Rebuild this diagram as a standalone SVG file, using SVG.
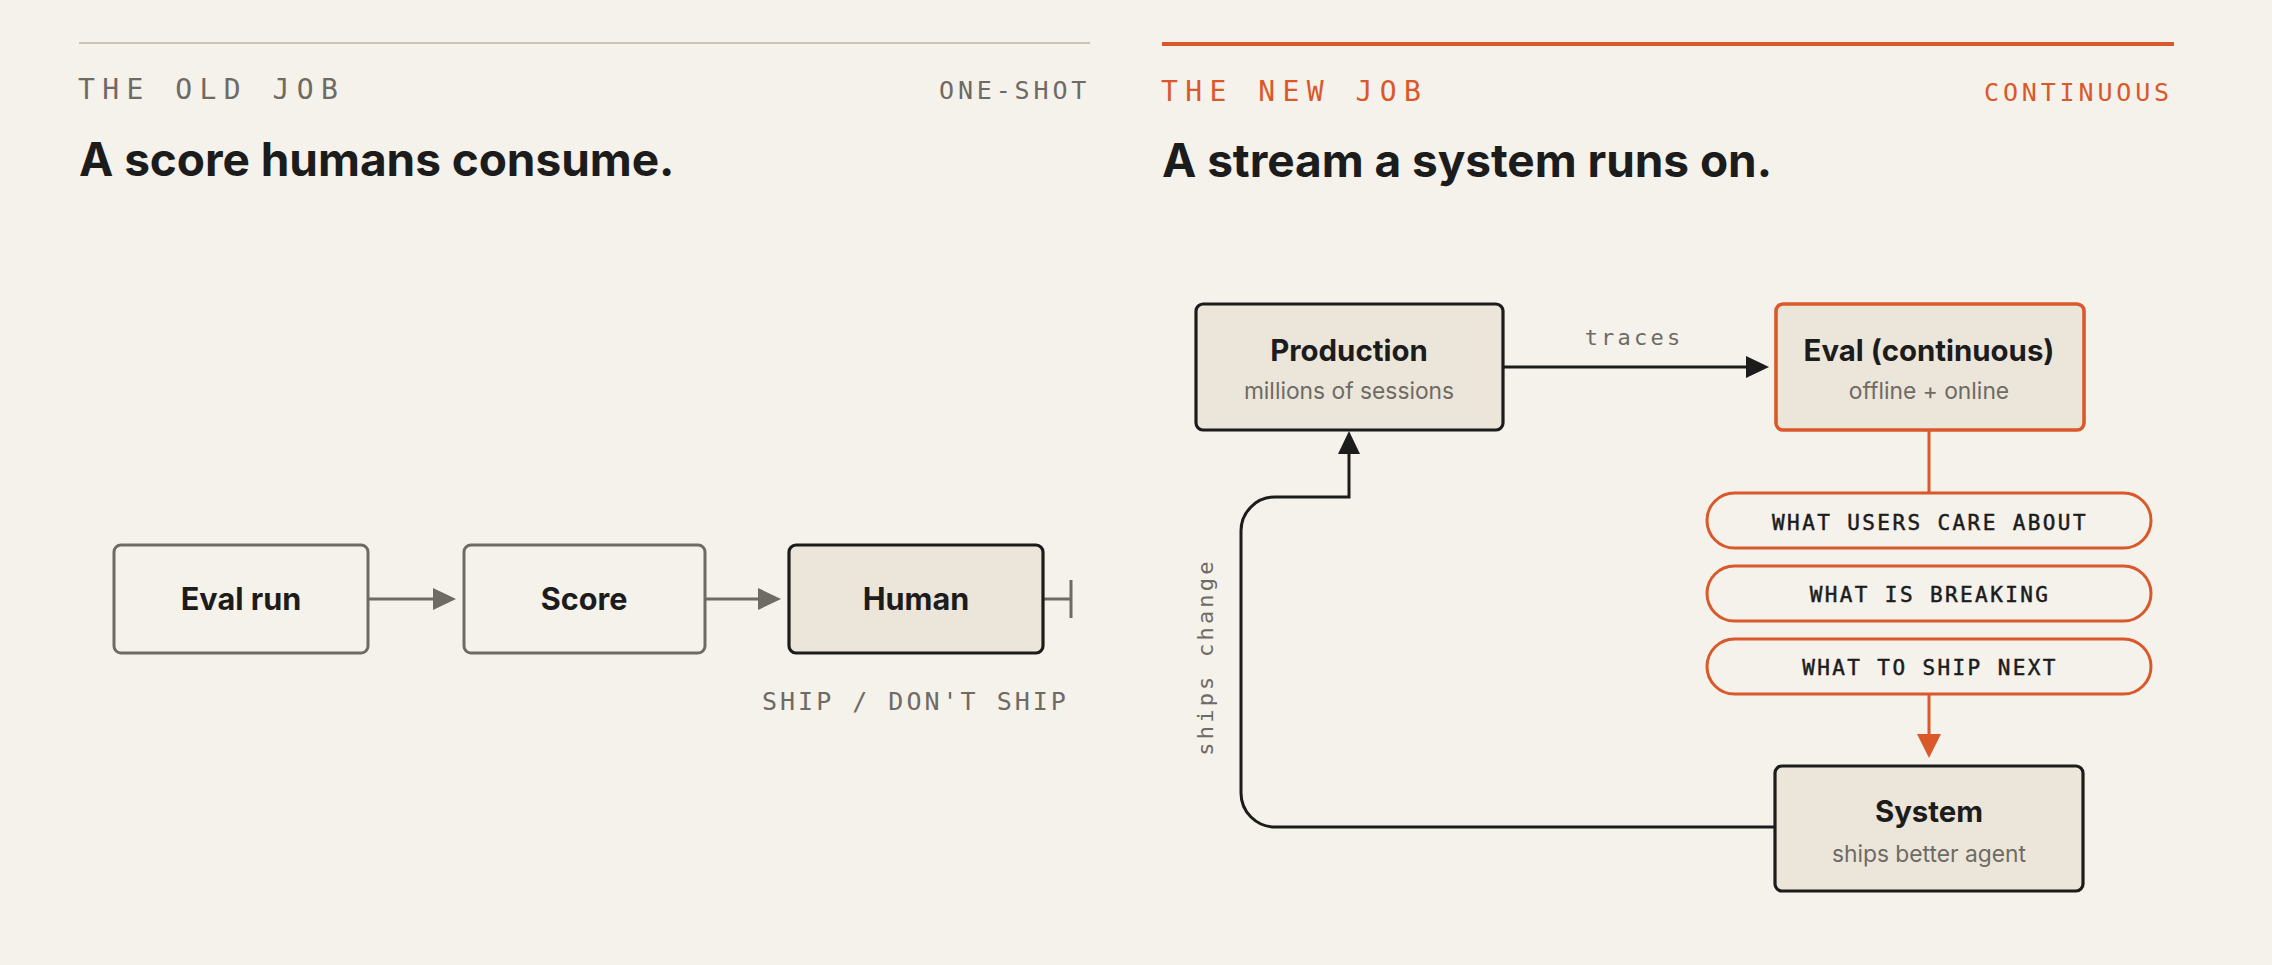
<svg xmlns="http://www.w3.org/2000/svg" width="2272" height="965" viewBox="0 0 2272 965">
<defs>
<style>
.bg{fill:#f5f1eb}
.kicker{font-family:"DejaVu Sans Mono",monospace;font-size:28px;letter-spacing:7.45px}
.tag{font-family:"DejaVu Sans Mono",monospace;font-size:25px;letter-spacing:3.85px}
.title{font-family:Inter,"Liberation Sans",sans-serif;font-weight:700;font-size:46px;fill:#1c1c1c;letter-spacing:-0.05px}
.gray{fill:#6e6a64}
.orange{fill:#d9592a}
.nodeOld{fill:#f5f1eb;stroke:#6e6a64;stroke-width:3}
.nodeDark{fill:#ebe5da;stroke:#1c1c1c;stroke-width:3.2}
.nodeOrange{fill:#ebe5da;stroke:#d9592a;stroke-width:3.6}
.pill{fill:#f5f1eb;stroke:#d9592a;stroke-width:3}
.nt{font-family:Inter,"Liberation Sans",sans-serif;font-weight:700;fill:#1c1c1c;text-anchor:middle}
.ns{font-family:Inter,"Liberation Sans",sans-serif;font-size:22.8px;fill:#6e6a64;text-anchor:middle}
.pt{font-family:"DejaVu Sans Mono",monospace;font-size:21px;letter-spacing:2.4px;fill:#1c1c1c;stroke:#1c1c1c;stroke-width:0.5px;text-anchor:middle}
.el{font-family:"DejaVu Sans Mono",monospace;font-size:22px;letter-spacing:3.2px;fill:#6e6a64}
.cg{fill:none;stroke:#6e6a64;stroke-width:3}
.cd{fill:none;stroke:#1c1c1c;stroke-width:3}
.co{fill:none;stroke:#d9592a;stroke-width:3}
</style>
<marker id="ahGray" viewBox="0 0 23 22" refX="0" refY="11" markerWidth="23" markerHeight="22" markerUnits="userSpaceOnUse" orient="auto"><path d="M0,0 L23,11 L0,22 Z" fill="#6e6a64"/></marker>
<marker id="ahDark" viewBox="0 0 23 22" refX="0" refY="11" markerWidth="23" markerHeight="22" markerUnits="userSpaceOnUse" orient="auto"><path d="M0,0 L23,11 L0,22 Z" fill="#1c1c1c"/></marker>
<marker id="ahOrange" viewBox="0 0 24 24" refX="0" refY="12" markerWidth="24" markerHeight="24" markerUnits="userSpaceOnUse" orient="auto"><path d="M0,0 L24,12 L0,24 Z" fill="#d9592a"/></marker>
</defs>
<rect class="bg" x="0" y="0" width="2272" height="965"/>

<g id="header-old">
<line x1="79" y1="43" x2="1090" y2="43" stroke="#c9c3b8" stroke-width="2"/>
<text class="kicker gray" x="78" y="99">THE OLD JOB</text>
<text class="tag gray" x="939" y="99">ONE-SHOT</text>
<text class="title" x="79" y="176">A score humans consume.</text>
</g>

<g id="header-new">
<line x1="1162" y1="44" x2="2174" y2="44" stroke="#d9592a" stroke-width="4"/>
<text class="kicker orange" x="1161" y="101">THE NEW JOB</text>
<text class="tag orange" x="1984" y="101">CONTINUOUS</text>
<text class="title" x="1162" y="177">A stream a system runs on.</text>
</g>

<g id="connectors">
<line class="cg" x1="368" y1="599" x2="433" y2="599" marker-end="url(#ahGray)"/>
<line class="cg" x1="705" y1="599" x2="758" y2="599" marker-end="url(#ahGray)"/>
<line class="cg" x1="1043" y1="599" x2="1071" y2="599"/>
<line class="cg" x1="1071" y1="580" x2="1071" y2="618"/>
<line class="cd" x1="1503" y1="367" x2="1746" y2="367" marker-end="url(#ahDark)"/>
<text class="el" x="1634" y="345" text-anchor="middle">traces</text>
<line class="co" x1="1929" y1="430" x2="1929" y2="493"/>
<line class="co" x1="1929" y1="693" x2="1929" y2="734" marker-end="url(#ahOrange)"/>
<path class="cd" d="M1775,827 H1275 A34,34 0 0 1 1241,793 V531 A34,34 0 0 1 1275,497 H1349 V454" marker-end="url(#ahDark)"/>
<text class="el" transform="translate(1213,657) rotate(-90)" text-anchor="middle">ships change</text>
<text class="tag gray" x="762" y="710" style="letter-spacing:3px">SHIP / DON'T SHIP</text>
</g>

<g id="node-eval-run">
<rect class="nodeOld" x="114" y="545" width="254" height="108" rx="7"/>
<text class="nt" x="241" y="610" font-size="30.6">Eval run</text>
</g>
<g id="node-score">
<rect class="nodeOld" x="464" y="545" width="241" height="108" rx="7"/>
<text class="nt" x="584" y="610" font-size="30.6">Score</text>
</g>
<g id="node-human">
<rect class="nodeDark" x="789" y="545" width="254" height="108" rx="7"/>
<text class="nt" x="916" y="610" font-size="30.6">Human</text>
</g>

<g id="node-production">
<rect class="nodeDark" x="1196" y="304" width="307" height="126" rx="7"/>
<text class="nt" x="1349" y="361" font-size="29.4">Production</text>
<text class="ns" x="1349" y="399">millions of sessions</text>
</g>
<g id="node-eval-continuous">
<rect class="nodeOrange" x="1776" y="304" width="308" height="126" rx="7"/>
<text class="nt" x="1929" y="361" font-size="29.4">Eval (continuous)</text>
<text class="ns" x="1929" y="399">offline + online</text>
</g>
<g id="node-users">
<rect class="pill" x="1707" y="493" width="444" height="55" rx="27.5"/>
<text class="pt" x="1930" y="530">WHAT USERS CARE ABOUT</text>
</g>
<g id="node-breaking">
<rect class="pill" x="1707" y="566" width="444" height="55" rx="27.5"/>
<text class="pt" x="1930" y="602">WHAT IS BREAKING</text>
</g>
<g id="node-next">
<rect class="pill" x="1707" y="639" width="444" height="55" rx="27.5"/>
<text class="pt" x="1930" y="675">WHAT TO SHIP NEXT</text>
</g>
<g id="node-system">
<rect class="nodeDark" x="1775" y="766" width="308" height="125" rx="7"/>
<text class="nt" x="1929" y="822" font-size="29.4">System</text>
<text class="ns" x="1929" y="862">ships better agent</text>
</g>
</svg>
